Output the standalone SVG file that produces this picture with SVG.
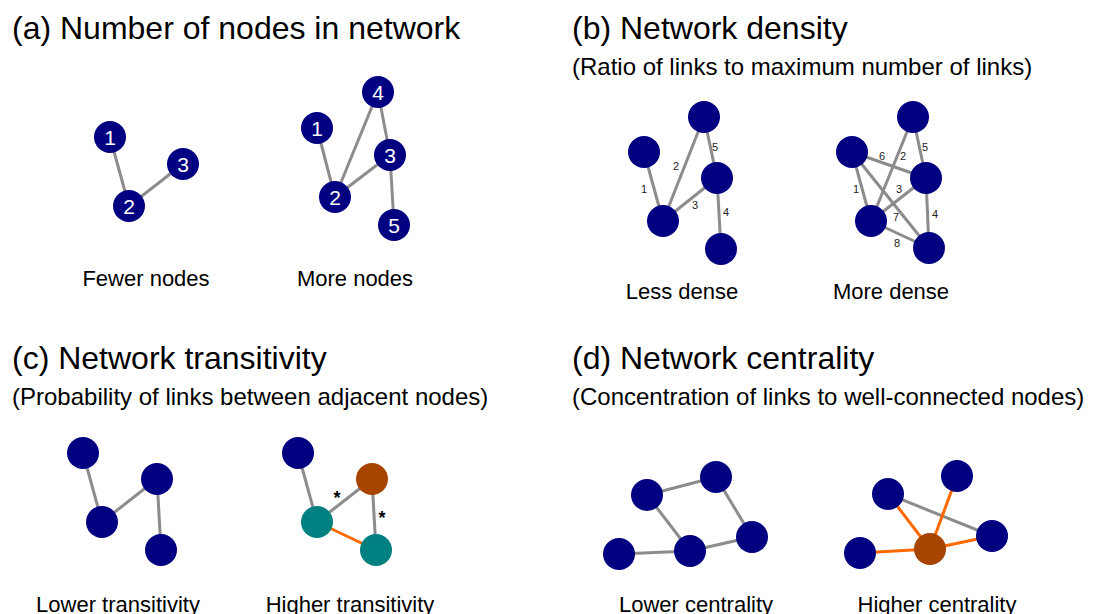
<svg xmlns="http://www.w3.org/2000/svg" width="1105" height="614" viewBox="0 0 1105 614">
<style>
text{font-family:"Liberation Sans",Arial,sans-serif;fill:#000}
.title{font-size:32px}
.sub{font-size:24px}
.cap{font-size:22px;text-anchor:middle}
.num{font-size:21px;fill:#fff;text-anchor:middle}
.el{font-size:11px;text-anchor:middle;fill:#222}
.star{font-size:18px;text-anchor:middle;font-weight:bold}
.e{stroke:#8c8c8c;stroke-width:3;fill:none}
.o{stroke:#ff6a00;stroke-width:3;fill:none}
.n{fill:#000080}
.b{fill:#a64400}
.t{fill:#008080}
</style>
<g id="titles">
<text class="title" x="12" y="39">(a) Number of nodes in network</text>
<text class="title" x="572" y="39">(b) Network density</text>
<text class="sub" x="572" y="75">(Ratio of links to maximum number of links)</text>
<text class="title" x="12" y="369">(c) Network transitivity</text>
<text class="sub" x="12" y="405">(Probability of links between adjacent nodes)</text>
<text class="title" x="572" y="369">(d) Network centrality</text>
<text class="sub" x="572" y="405">(Concentration of links to well-connected nodes)</text>
</g>
<g id="connectors">
<!-- a fewer -->
<line class="e" x1="110" y1="137" x2="129" y2="206"/>
<line class="e" x1="129" y1="206" x2="183" y2="164"/>
<!-- a more -->
<line class="e" x1="317" y1="128" x2="335" y2="197"/>
<line class="e" x1="335" y1="197" x2="378" y2="92"/>
<line class="e" x1="378" y1="92" x2="390" y2="155"/>
<line class="e" x1="335" y1="197" x2="390" y2="155"/>
<line class="e" x1="390" y1="155" x2="394" y2="225"/>
<!-- b less -->
<line class="e" x1="644" y1="152" x2="663" y2="221"/>
<line class="e" x1="663" y1="221" x2="704" y2="117"/>
<line class="e" x1="663" y1="221" x2="717" y2="178"/>
<line class="e" x1="717" y1="178" x2="721" y2="249"/>
<line class="e" x1="704" y1="117" x2="717" y2="178"/>
<!-- b more -->
<line class="e" x1="852" y1="152" x2="871" y2="221"/>
<line class="e" x1="871" y1="221" x2="913" y2="117"/>
<line class="e" x1="871" y1="221" x2="926" y2="178"/>
<line class="e" x1="926" y1="178" x2="929" y2="248"/>
<line class="e" x1="913" y1="117" x2="926" y2="178"/>
<line class="e" x1="852" y1="152" x2="926" y2="178"/>
<line class="e" x1="852" y1="152" x2="929" y2="248"/>
<line class="e" x1="871" y1="221" x2="929" y2="248"/>
<!-- c lower -->
<line class="e" x1="83" y1="453" x2="102" y2="522"/>
<line class="e" x1="102" y1="522" x2="157" y2="479"/>
<line class="e" x1="157" y1="479" x2="161" y2="550"/>
<!-- c higher -->
<line class="e" x1="298" y1="453" x2="317" y2="522"/>
<line class="e" x1="317" y1="522" x2="372" y2="479"/>
<line class="e" x1="372" y1="479" x2="376" y2="550"/>
<line class="o" x1="317" y1="522" x2="376" y2="550"/>
<!-- d lower -->
<line class="e" x1="647" y1="495" x2="716" y2="477"/>
<line class="e" x1="716" y1="477" x2="752" y2="537"/>
<line class="e" x1="647" y1="495" x2="690" y2="551"/>
<line class="e" x1="619" y1="554" x2="690" y2="551"/>
<line class="e" x1="690" y1="551" x2="752" y2="537"/>
<!-- d higher -->
<line class="e" x1="888" y1="494" x2="992" y2="536"/>
<line class="o" x1="888" y1="494" x2="930" y2="549"/>
<line class="o" x1="957" y1="476" x2="930" y2="549"/>
<line class="o" x1="992" y1="536" x2="930" y2="549"/>
<line class="o" x1="860" y1="553" x2="930" y2="549"/>
</g>
<g id="edge-labels">
<text class="el" x="644" y="193">1</text>
<text class="el" x="676" y="170">2</text>
<text class="el" x="695" y="209">3</text>
<text class="el" x="726" y="216">4</text>
<text class="el" x="715" y="151">5</text>
<text class="el" x="856" y="193">1</text>
<text class="el" x="903" y="160">2</text>
<text class="el" x="899" y="193">3</text>
<text class="el" x="935" y="218">4</text>
<text class="el" x="925" y="151">5</text>
<text class="el" x="882" y="160">6</text>
<text class="el" x="896" y="221">7</text>
<text class="el" x="897" y="247">8</text>
<text class="star" x="337" y="504">*</text>
<text class="star" x="382" y="524">*</text>
</g>
<g id="a-fewer">
<g id="a1-n1"><circle class="n" cx="110" cy="137" r="16"/><text class="num" x="110" y="144.5">1</text></g>
<g id="a1-n2"><circle class="n" cx="129" cy="206" r="16"/><text class="num" x="129" y="213.5">2</text></g>
<g id="a1-n3"><circle class="n" cx="183" cy="164" r="16"/><text class="num" x="183" y="171.5">3</text></g>
</g>
<g id="a-more">
<g id="a2-n1"><circle class="n" cx="317" cy="128" r="16"/><text class="num" x="317" y="135.5">1</text></g>
<g id="a2-n2"><circle class="n" cx="335" cy="197" r="16"/><text class="num" x="335" y="204.5">2</text></g>
<g id="a2-n3"><circle class="n" cx="390" cy="155" r="16"/><text class="num" x="390" y="162.5">3</text></g>
<g id="a2-n4"><circle class="n" cx="378" cy="92" r="16"/><text class="num" x="378" y="99.5">4</text></g>
<g id="a2-n5"><circle class="n" cx="394" cy="225" r="16"/><text class="num" x="394" y="232.5">5</text></g>
</g>
<g id="b-less">
<circle id="b1-n1" class="n" cx="704" cy="117" r="16"/>
<circle id="b1-n2" class="n" cx="644" cy="152" r="16"/>
<circle id="b1-n3" class="n" cx="717" cy="178" r="16"/>
<circle id="b1-n4" class="n" cx="663" cy="221" r="16"/>
<circle id="b1-n5" class="n" cx="721" cy="249" r="16"/>
</g>
<g id="b-more">
<circle id="b2-n1" class="n" cx="913" cy="117" r="16"/>
<circle id="b2-n2" class="n" cx="852" cy="152" r="16"/>
<circle id="b2-n3" class="n" cx="926" cy="178" r="16"/>
<circle id="b2-n4" class="n" cx="871" cy="221" r="16"/>
<circle id="b2-n5" class="n" cx="929" cy="248" r="16"/>
</g>
<g id="c-lower">
<circle id="c1-n1" class="n" cx="83" cy="453" r="16"/>
<circle id="c1-n2" class="n" cx="157" cy="479" r="16"/>
<circle id="c1-n3" class="n" cx="102" cy="522" r="16"/>
<circle id="c1-n4" class="n" cx="161" cy="550" r="16"/>
</g>
<g id="c-higher">
<circle id="c2-n1" class="n" cx="298" cy="453" r="16"/>
<circle id="c2-n2" class="b" cx="372" cy="479" r="16"/>
<circle id="c2-n3" class="t" cx="317" cy="522" r="16"/>
<circle id="c2-n4" class="t" cx="376" cy="550" r="16"/>
</g>
<g id="d-lower">
<circle id="d1-n1" class="n" cx="647" cy="495" r="16"/>
<circle id="d1-n2" class="n" cx="716" cy="477" r="16"/>
<circle id="d1-n3" class="n" cx="752" cy="537" r="16"/>
<circle id="d1-n4" class="n" cx="690" cy="551" r="16"/>
<circle id="d1-n5" class="n" cx="619" cy="554" r="16"/>
</g>
<g id="d-higher">
<circle id="d2-n1" class="n" cx="888" cy="494" r="16"/>
<circle id="d2-n2" class="n" cx="957" cy="476" r="16"/>
<circle id="d2-n3" class="n" cx="992" cy="536" r="16"/>
<circle id="d2-n4" class="b" cx="930" cy="549" r="16"/>
<circle id="d2-n5" class="n" cx="860" cy="553" r="16"/>
</g>
<g id="captions">
<text class="cap" x="146" y="286">Fewer nodes</text>
<text class="cap" x="355" y="286">More nodes</text>
<text class="cap" x="682" y="299">Less dense</text>
<text class="cap" x="891" y="299">More dense</text>
<text class="cap" x="118" y="612">Lower transitivity</text>
<text class="cap" x="350" y="612">Higher transitivity</text>
<text class="cap" x="696" y="612">Lower centrality</text>
<text class="cap" x="937" y="612">Higher centrality</text>
</g>
</svg>
